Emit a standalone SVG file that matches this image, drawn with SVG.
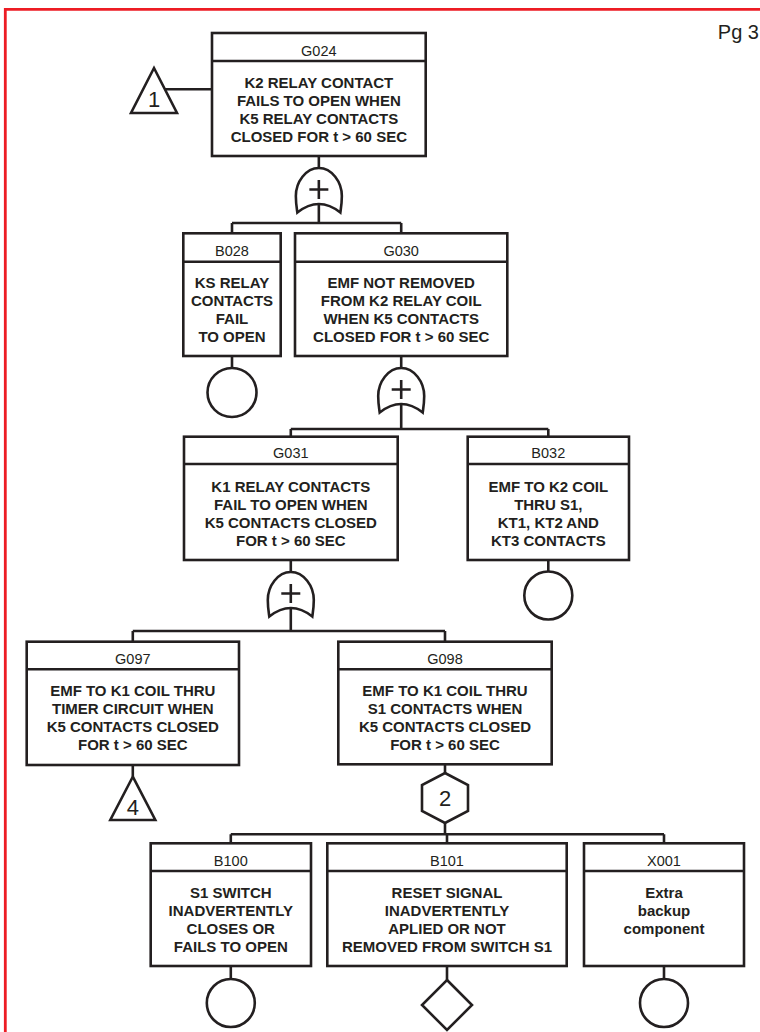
<svg xmlns="http://www.w3.org/2000/svg" width="760" height="1032" viewBox="0 0 760 1032">
<defs>
<style>
.ln{fill:none;stroke:#231f20;stroke-width:2.6;stroke-linejoin:miter}
.bx{fill:#fff;stroke:#231f20;stroke-width:2.6}
.hd{font-family:"Liberation Sans",Arial,sans-serif;font-size:14.5px;fill:#231f20;text-anchor:middle}
.bd{font-family:"Liberation Sans",Arial,sans-serif;font-size:15px;font-weight:bold;fill:#231f20;text-anchor:middle}
.sym{font-family:"Liberation Sans",Arial,sans-serif;font-size:22px;fill:#231f20;text-anchor:middle}
</style>
<g id="orgate">
<path class="bx" d="M0,0 C13,0 23,14 23,28 C23,36 22,41 21.5,44.5 Q0,27.5 -21.5,44.5 C-22,41 -23,36 -23,28 C-23,14 -13,0 0,0 Z"/>
<path class="ln" d="M-9.5,21.5 H9.5 M0,12 V31"/>
</g>
</defs>
<rect width="760" height="1032" fill="#fff"/>
<path d="M5.3,1032 V9.3 H760" fill="none" stroke="#ed1c24" stroke-width="2.8"/>
<text x="759" y="38.5" font-family="Liberation Sans, Arial, sans-serif" font-size="20" fill="#231f20" text-anchor="end">Pg 3</text>

<g id="connectors" class="ln">
<path d="M165,89.3 H212"/>
<path d="M318.85,156 V168 M318.85,204 V223 M232,223 H401.2 M232,223 V233.3 M401.2,223 V233.3"/>
<path d="M232,356 V368"/>
<path d="M401.2,356 V368 M401.2,404 V429 M290.8,429 H548.3 M290.8,429 V436.7 M548.3,429 V436.7"/>
<path d="M548.3,560 V571.5"/>
<path d="M290.8,560 V572 M290.8,608 V631 M132.8,631 H445 M132.8,631 V641.7 M445,631 V641.7"/>
<path d="M132.8,765 V776.7"/>
<path d="M445,764.3 V773 M445,823 V834.3 M230.8,834.3 H664 M230.8,834.3 V843.3 M447,834.3 V843.3 M664,834.3 V843.3"/>
<path d="M230.8,966 V979 M447,966 V980 M664,966 V979"/>
</g>

<g id="T1">
<path class="bx" d="M154,68 L177,113 H131 Z"/>
<text class="sym" x="154" y="107.3">1</text>
</g>

<g id="G024">
<rect class="bx" x="212" y="33" width="213.7" height="123"/>
<line class="ln" x1="212" y1="61" x2="425.7" y2="61"/>
<text class="hd" x="318.85" y="55.5">G024</text>
<text class="bd" x="318.85" y="87.5">K2 RELAY CONTACT</text>
<text class="bd" x="318.85" y="105.5">FAILS TO OPEN WHEN</text>
<text class="bd" x="318.85" y="123.5">K5 RELAY CONTACTS</text>
<text class="bd" x="318.85" y="141.5">CLOSED FOR t &gt; 60 SEC</text>
</g>
<g id="gate1"><use href="#orgate" x="318.85" y="168"/></g>

<g id="B028">
<rect class="bx" x="183.3" y="233.3" width="97.4" height="122.7"/>
<line class="ln" x1="183.3" y1="261.7" x2="280.7" y2="261.7"/>
<text class="hd" x="232" y="255.5">B028</text>
<text class="bd" x="232" y="288">KS RELAY</text>
<text class="bd" x="232" y="306">CONTACTS</text>
<text class="bd" x="232" y="324">FAIL</text>
<text class="bd" x="232" y="342">TO OPEN</text>
<circle class="bx" cx="232" cy="392.5" r="24.5"/>
</g>

<g id="G030">
<rect class="bx" x="295" y="233.3" width="212.3" height="122.7"/>
<line class="ln" x1="295" y1="261.7" x2="507.3" y2="261.7"/>
<text class="hd" x="401.2" y="255.5">G030</text>
<text class="bd" x="401.2" y="288">EMF NOT REMOVED</text>
<text class="bd" x="401.2" y="306">FROM K2 RELAY COIL</text>
<text class="bd" x="401.2" y="324">WHEN K5 CONTACTS</text>
<text class="bd" x="401.2" y="342">CLOSED FOR t &gt; 60 SEC</text>
</g>
<g id="gate2"><use href="#orgate" x="401.2" y="368"/></g>

<g id="G031">
<rect class="bx" x="184" y="436.7" width="213.7" height="123.3"/>
<line class="ln" x1="184" y1="464" x2="397.7" y2="464"/>
<text class="hd" x="290.8" y="458.3">G031</text>
<text class="bd" x="290.8" y="491.5">K1 RELAY CONTACTS</text>
<text class="bd" x="290.8" y="509.5">FAIL TO OPEN WHEN</text>
<text class="bd" x="290.8" y="527.5">K5 CONTACTS CLOSED</text>
<text class="bd" x="290.8" y="545.5">FOR t &gt; 60 SEC</text>
</g>
<g id="gate3"><use href="#orgate" x="290.8" y="572"/></g>

<g id="B032">
<rect class="bx" x="467.7" y="436.7" width="161.3" height="123.3"/>
<line class="ln" x1="467.7" y1="464" x2="629" y2="464"/>
<text class="hd" x="548.3" y="458.3">B032</text>
<text class="bd" x="548.3" y="491.5">EMF TO K2 COIL</text>
<text class="bd" x="548.3" y="509.5">THRU S1,</text>
<text class="bd" x="548.3" y="527.5">KT1, KT2 AND</text>
<text class="bd" x="548.3" y="545.5">KT3 CONTACTS</text>
<circle class="bx" cx="548.3" cy="595.5" r="24"/>
</g>

<g id="G097">
<rect class="bx" x="26.7" y="641.7" width="212.3" height="123.3"/>
<line class="ln" x1="26.7" y1="669.3" x2="239" y2="669.3"/>
<text class="hd" x="132.8" y="663.5">G097</text>
<text class="bd" x="132.8" y="696">EMF TO K1 COIL THRU</text>
<text class="bd" x="132.8" y="714">TIMER CIRCUIT WHEN</text>
<text class="bd" x="132.8" y="732">K5 CONTACTS CLOSED</text>
<text class="bd" x="132.8" y="750">FOR t &gt; 60 SEC</text>
</g>
<g id="T4">
<path class="bx" d="M132.8,776.7 L155.3,820 H110.3 Z"/>
<text class="sym" x="132.8" y="815">4</text>
</g>

<g id="G098">
<rect class="bx" x="338.3" y="641.7" width="213.4" height="122.6"/>
<line class="ln" x1="338.3" y1="669.3" x2="551.7" y2="669.3"/>
<text class="hd" x="445" y="663.5">G098</text>
<text class="bd" x="445" y="696">EMF TO K1 COIL THRU</text>
<text class="bd" x="445" y="714">S1 CONTACTS WHEN</text>
<text class="bd" x="445" y="732">K5 CONTACTS CLOSED</text>
<text class="bd" x="445" y="750">FOR t &gt; 60 SEC</text>
</g>
<g id="H2">
<path class="bx" d="M445,773 L468,785 V811 L445,823 L422,811 V785 Z"/>
<text class="sym" x="445" y="806">2</text>
</g>

<g id="B100">
<rect class="bx" x="150.7" y="843.3" width="160.3" height="122.7"/>
<line class="ln" x1="150.7" y1="871" x2="311" y2="871"/>
<text class="hd" x="230.8" y="865.5">B100</text>
<text class="bd" x="230.8" y="897.5">S1 SWITCH</text>
<text class="bd" x="230.8" y="915.5">INADVERTENTLY</text>
<text class="bd" x="230.8" y="933.5">CLOSES OR</text>
<text class="bd" x="230.8" y="951.5">FAILS TO OPEN</text>
<circle class="bx" cx="230.8" cy="1003" r="24"/>
</g>

<g id="B101">
<rect class="bx" x="327.3" y="843.3" width="239.4" height="122.7"/>
<line class="ln" x1="327.3" y1="871" x2="566.7" y2="871"/>
<text class="hd" x="447" y="865.5">B101</text>
<text class="bd" x="447" y="897.5">RESET SIGNAL</text>
<text class="bd" x="447" y="915.5">INADVERTENTLY</text>
<text class="bd" x="447" y="933.5">APLIED OR NOT</text>
<text class="bd" x="447" y="951.5">REMOVED FROM SWITCH S1</text>
<path class="bx" d="M447,980 L472,1005 L447,1030 L422,1005 Z"/>
</g>

<g id="X001">
<rect class="bx" x="584" y="843.3" width="160" height="122.7"/>
<line class="ln" x1="584" y1="871" x2="744" y2="871"/>
<text class="hd" x="664" y="865.5">X001</text>
<text class="bd" x="664" y="898">Extra</text>
<text class="bd" x="664" y="916">backup</text>
<text class="bd" x="664" y="934">component</text>
<circle class="bx" cx="664" cy="1003" r="24"/>
</g>
</svg>
